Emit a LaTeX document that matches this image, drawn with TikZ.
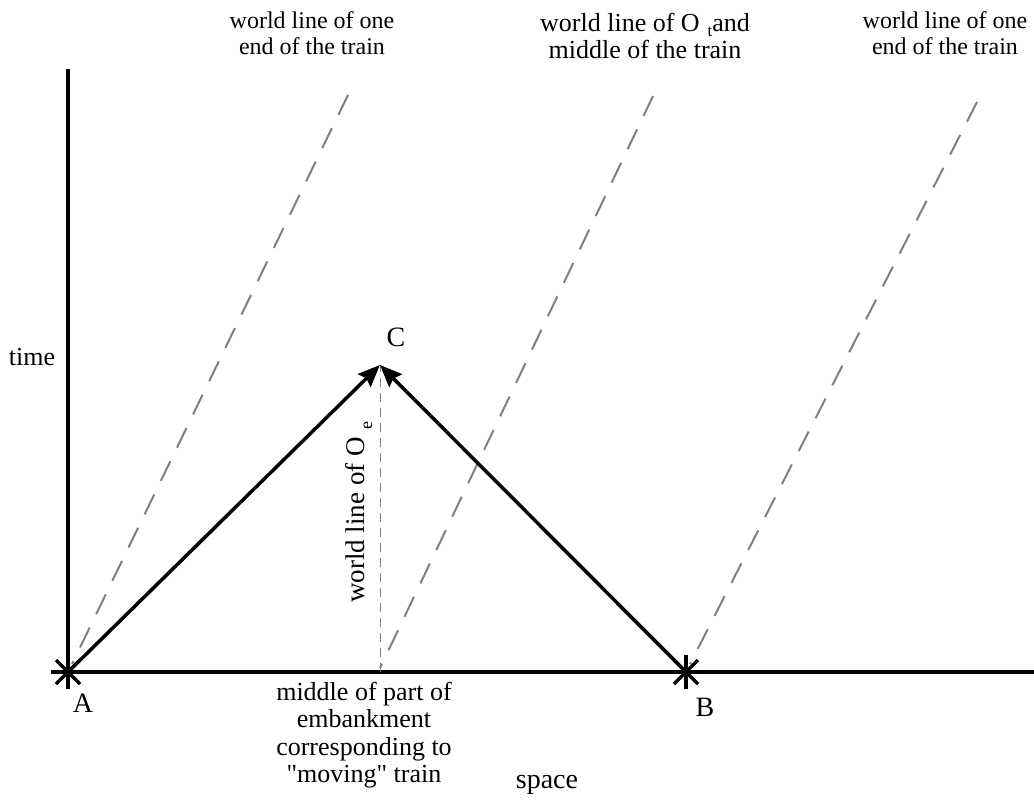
\documentclass[tikz,border=0pt]{standalone}
\usepackage{fontspec}
\setmainfont{Liberation Serif}[Ligatures=TeXOff]
\usetikzlibrary{arrows.meta,positioning,calc}

\begin{document}
\begin{tikzpicture}[x=1pt, y=-1pt,
      font=\fontsize{24}{26}\selectfont,
      axis/.style={line width=3.5pt},
      ray/.style={line width=3.5pt, -{Stealth[length=22pt,width=18pt,inset=3pt]}},
      trainline/.style={draw=gray, line width=2pt, dash pattern=on 22pt off 15pt},
      worldline/.style={draw=gray, line width=0.8pt, dash pattern=on 9pt off 6pt},
      flash/.style={line width=3.5pt},
      lbl/.style={align=center, inner sep=0pt},
      event/.style={lbl, font=\fontsize{28}{30}\selectfont}]

    \useasboundingbox (0,0) rectangle (1034,806);

    % events and axes
    \coordinate (A) at (68,672);
    \coordinate (B) at (686,672);
    \coordinate (C) at (380,365);
    \coordinate (mid) at (380,672);
    \coordinate (ttop) at (68,69);
    \coordinate (xend) at (1034,672);

    \draw[axis] (A) -- (ttop);
    \draw[axis] (A) -- (xend);

    % train world lines
    \coordinate (e1top) at (348,95);
    \coordinate (e2top) at (653,96);
    \coordinate (e3top) at (977,102);
    \draw[trainline] (e1top) -- ($(A)+(4,-8)$);
    \draw[trainline] (e2top) -- ($(mid)+(0,-4)$);
    \draw[trainline] (e3top) -- ($(B)+(4,-8)$);

    % observer on embankment
    \draw[worldline] (mid) -- (C);

    % light signals
    \draw[ray] (A) -- (C);
    \draw[ray] (B) -- (C);

    % flashes at A and B
    \foreach \p in {A,B} {
      \draw[flash] ($(\p)+(-17,0)$) -- ($(\p)+(17,0)$);
      \draw[flash] ($(\p)+(0,-17)$) -- ($(\p)+(0,17)$);
      \draw[flash] ($(\p)+(-12,-12)$) -- ($(\p)+(12,12)$);
      \draw[flash] ($(\p)+(-12,12)$) -- ($(\p)+(12,-12)$);
    }

    \node[event] (lblA) at (83,703) {A};
    \node[event] (lblB) at (705,707) {B};
    \node[event] (lblC) at (396,337) {C};
    \node[lbl, font=\fontsize{26}{28}\selectfont] (time) at (32,357) {time};
    \node[lbl, font=\fontsize{28}{30}\selectfont] (space) at (547,785) {space};

    \node[lbl] (end1) at (312,33) {world line of one\\end of the train};
    \node[lbl, font=\fontsize{26}{27}\selectfont] (middle) at (645,36)
      {world line of O\raisebox{-0.4ex}{\hspace{0.3em}\fontsize{17}{17}\selectfont t}and\\middle of the train};
    \node[lbl] (end2) at (945,33) {world line of one\\end of the train};

    \node[lbl, rotate=90, font=\fontsize{27}{29}\selectfont] (obs) at (359,512)
      {world line of O\raisebox{-0.6ex}{\hspace{0.3em}\fontsize{18}{18}\selectfont e}};

    \node[lbl, font=\fontsize{26}{27.5}\selectfont] (embank) at (364,735)
      {middle of part of\\embankment\\corresponding to\\"moving" train};
  \end{tikzpicture}
\end{document}
